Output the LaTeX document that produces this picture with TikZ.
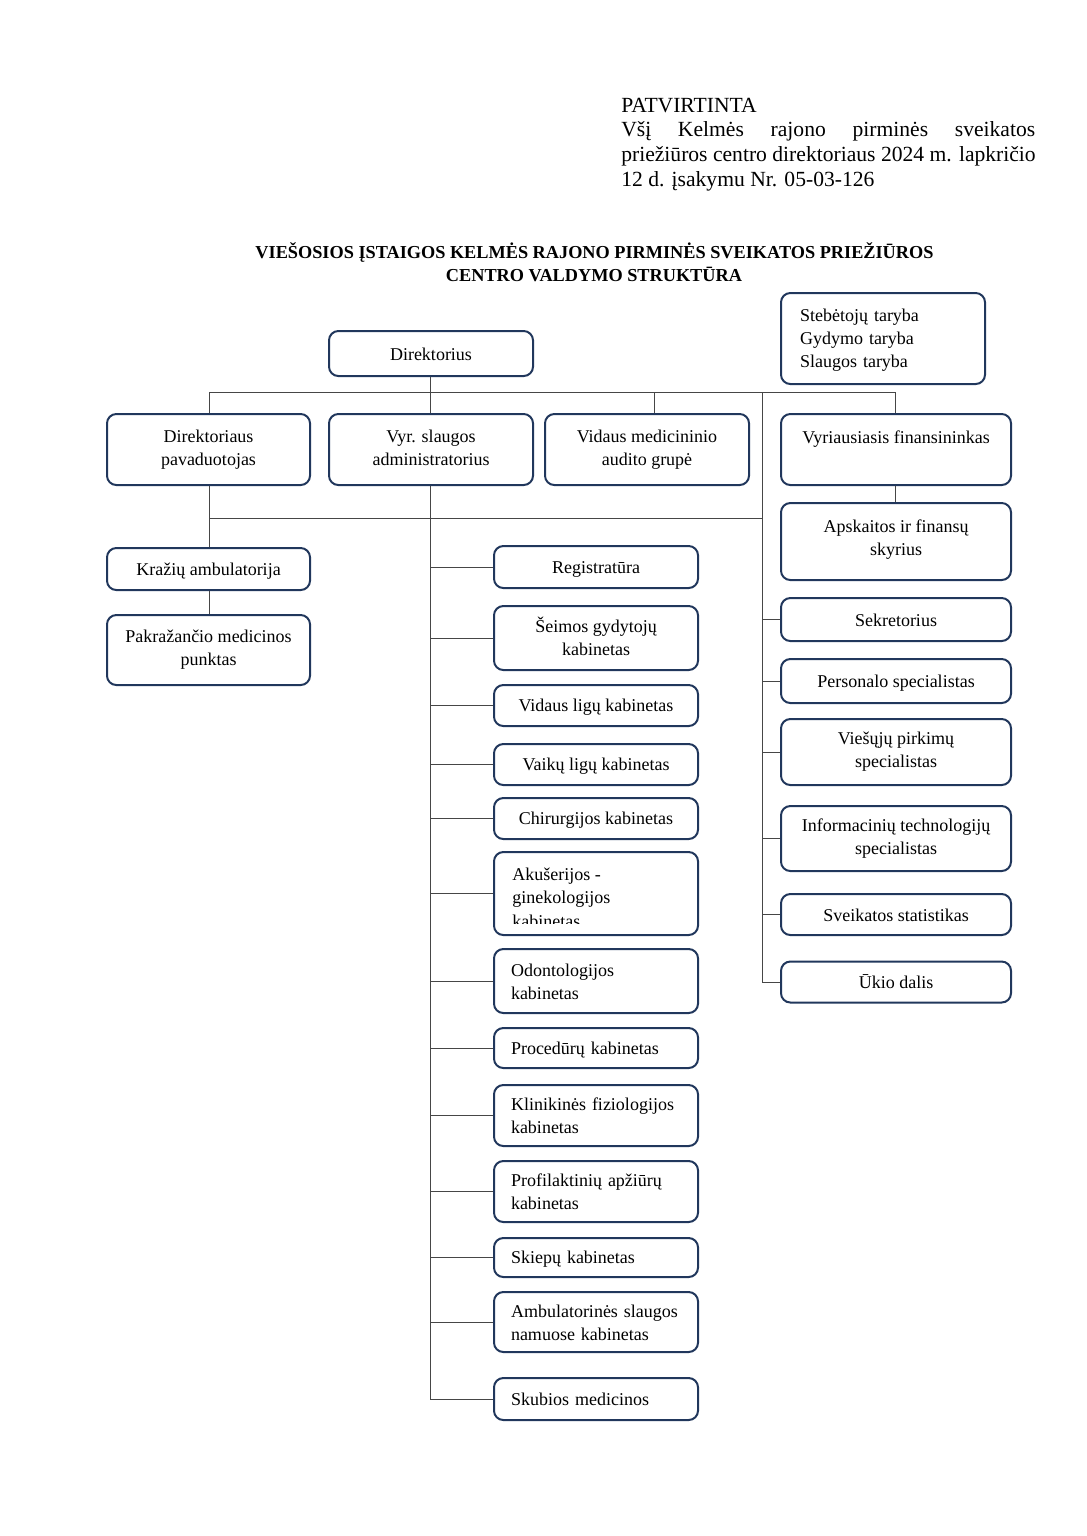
\documentclass[tikz,border=0pt]{standalone}
\usepackage{fontspec}
\setmainfont{Liberation Serif}
\definecolor{navy}{RGB}{33,55,92}
\definecolor{lin}{RGB}{70,70,70}
\newcommand\bxstrut{\rule[-2pt]{0pt}{14pt}}
\begin{document}
\begin{tikzpicture}[x=0.75pt,y=-0.75pt,
  bx/.style={draw=navy, line width=1.5pt, rounded corners=7pt, inner sep=0pt,
    align=center, font=\fontsize{13.5}{17.25}\selectfont,
    execute at begin node=\bxstrut, execute at end node=\bxstrut},
  bxl/.style={bx, align=left, text width=127.5pt},
  wm/.style={minimum width=153pt},
  wr/.style={minimum width=172.5pt},
  conn/.style={draw=lin, line width=0.6pt},
  hdr/.style={inner sep=0pt, font=\fontsize{16.2}{18.75}\selectfont},
  ttl/.style={inner sep=0pt, font=\fontsize{13.7}{17}\selectfont\bfseries},
  txt/.style={inner sep=0pt, font=\fontsize{13.5}{17.25}\selectfont}]
\useasboundingbox (0,0) rectangle (1086,1536);

% header
\node[hdr, anchor=base west] (h1) at (621,112) {PATVIRTINTA};
\node[hdr, anchor=base west] (h2) at (621,136) {\hbox to 310.5pt{Všį\hfill Kelmės\hfill rajono\hfill pirminės\hfill sveikatos}};
\node[hdr, anchor=base west] (h3) at (621,161) {priežiūros centro direktoriaus 2024 m. lapkričio};
\node[hdr, anchor=base west] (h4) at (621,186) {12 d. įsakymu Nr. 05-03-126};

% title
\node[ttl, anchor=base] (t1) at (594.5,258) {VIEŠOSIOS ĮSTAIGOS KELMĖS RAJONO PIRMINĖS SVEIKATOS PRIEŽIŪROS};
\node[ttl, anchor=base] (t2) at (594,281) {CENTRO VALDYMO STRUKTŪRA};

% top
\node[bx, wm, minimum height=33.75pt] (dir) at (431,353.5) {Direktorius};
\node[bx, align=left, text width=124.5pt, wm, minimum height=68.25pt] (tar) at (883,338.5) {Stebėtojų taryba\\Gydymo taryba\\Slaugos taryba};

% row 2
\node[bx, minimum width=152.25pt, minimum height=53.25pt] (dp) at (208.5,449.5) {Direktoriaus\\pavaduotojas};
\node[bx, wm, minimum height=53.25pt] (vyr) at (431,449.5) {Vyr. slaugos\\administratorius};
\node[bx, wm, minimum height=53.25pt] (vid) at (647,449.5) {Vidaus medicininio\\audito grupė};
\node[bx, wr, minimum height=53.25pt] (fin) at (896,449.5) {Vyriausiasis finansininkas\\ };
\node[bx, wr, minimum height=57.75pt] (aps) at (896,541.5) {Apskaitos ir finansų\\skyrius\rule[-6pt]{0pt}{0pt}};

% left column
\node[bx, minimum width=152.25pt, minimum height=31.5pt] (kraz) at (208.5,569) {Kražių ambulatorija};
\node[bx, minimum width=152.25pt, minimum height=52.5pt] (pak) at (208.5,650) {Pakražančio medicinos\\punktas};

% middle column
\node[bx, wm, minimum height=31.5pt] (reg) at (596,567) {Registratūra};
\node[bx, wm, minimum height=48pt] (seim) at (596,638) {Šeimos gydytojų\\kabinetas};
\node[bx, wm, minimum height=30.75pt] (vidl) at (596,705.5) {Vidaus ligų kabinetas};
\node[bx, wm, minimum height=30.75pt] (vaik) at (596,764.5) {Vaikų ligų kabinetas};
\node[bx, wm, minimum height=30.75pt] (chir) at (596,818.5) {Chirurgijos kabinetas};
\node[bx, wm, minimum height=62.25pt] (akus) at (596,893.5) {};
\begin{scope}
  \clip (494,850) rectangle (698,923);
  \node[txt, anchor=base west] (ak1) at (512,880) {Akušerijos -};
  \node[txt, anchor=base west] (ak2) at (512,903) {ginekologijos};
  \node[txt, anchor=base west] (ak3) at (512,927) {kabinetas};
\end{scope}
\node[bxl, wm, minimum height=48pt] (odon) at (596,981) {Odontologijos\\kabinetas};
\node[bxl, wm, minimum height=30pt] (proc) at (596,1048) {Procedūrų kabinetas};
\node[bxl, wm, minimum height=45.75pt] (klin) at (596,1115.5) {Klinikinės fiziologijos\\kabinetas};
\node[bxl, wm, minimum height=45.75pt] (prof) at (596,1191.5) {Profilaktinių apžiūrų\\kabinetas};
\node[bxl, wm, minimum height=29.25pt] (skiep) at (596,1257.5) {Skiepų kabinetas};
\node[bxl, wm, minimum height=45pt] (amb) at (596,1322) {Ambulatorinės slaugos\\namuose kabinetas};
\node[bxl, wm, minimum height=31.5pt] (skub) at (596,1399) {Skubios medicinos};

% right column
\node[bx, wr, minimum height=32.25pt] (sek) at (896,619.5) {Sekretorius};
\node[bx, wr, minimum height=33pt] (pers) at (896,681) {Personalo specialistas};
\node[bx, wr, minimum height=49.5pt] (vies) at (896,752) {Viešųjų pirkimų\\specialistas};
\node[bx, wr, minimum height=48.75pt] (info) at (896,838.5) {Informacinių technologijų\\specialistas};
\node[bx, wr, minimum height=30.75pt] (svei) at (896,914.5) {Sveikatos statistikas};
\node[bx, wr, minimum height=30.75pt] (ukio) at (896,982) {Ūkio dalis};

% connectors
\coordinate (hL) at (209,392);
\coordinate (hR) at (895,392);
\coordinate (xv) at (430,392);
\coordinate (xvid) at (654,392);
\coordinate (xr) at (762,392);
\coordinate (mL) at (209,518);
\coordinate (mR) at (762,518);

\draw[conn] (hL) -- (hR);
\draw[conn] (dir.south -| xv) -- (xv);
\draw[conn] (hL) -- (dp.north -| hL);
\draw[conn] (xv) -- (vyr.north -| xv);
\draw[conn] (xvid) -- (vid.north -| xvid);
\draw[conn] (hR) -- (fin.north -| hR);
\draw[conn] (fin.south -| hR) -- (aps.north -| hR);

\draw[conn] (mL) -- (mR);
\draw[conn] (dp.south -| mL) -- (kraz.north -| mL);
\draw[conn] (kraz.south -| mL) -- (pak.north -| mL);

\draw[conn] (vyr.south -| xv) -- (xv |- skub.west) -- (skub.west);
\foreach \n in {reg,seim,vidl,vaik,chir,akus,odon,proc,klin,prof,skiep,amb}
  \draw[conn] (xv |- \n.west) -- (\n.west);

\draw[conn] (xr) -- (xr |- ukio.west) -- (ukio.west);
\foreach \n in {sek,pers,vies,info,svei}
  \draw[conn] (xr |- \n.west) -- (\n.west);
\end{tikzpicture}
\end{document}
